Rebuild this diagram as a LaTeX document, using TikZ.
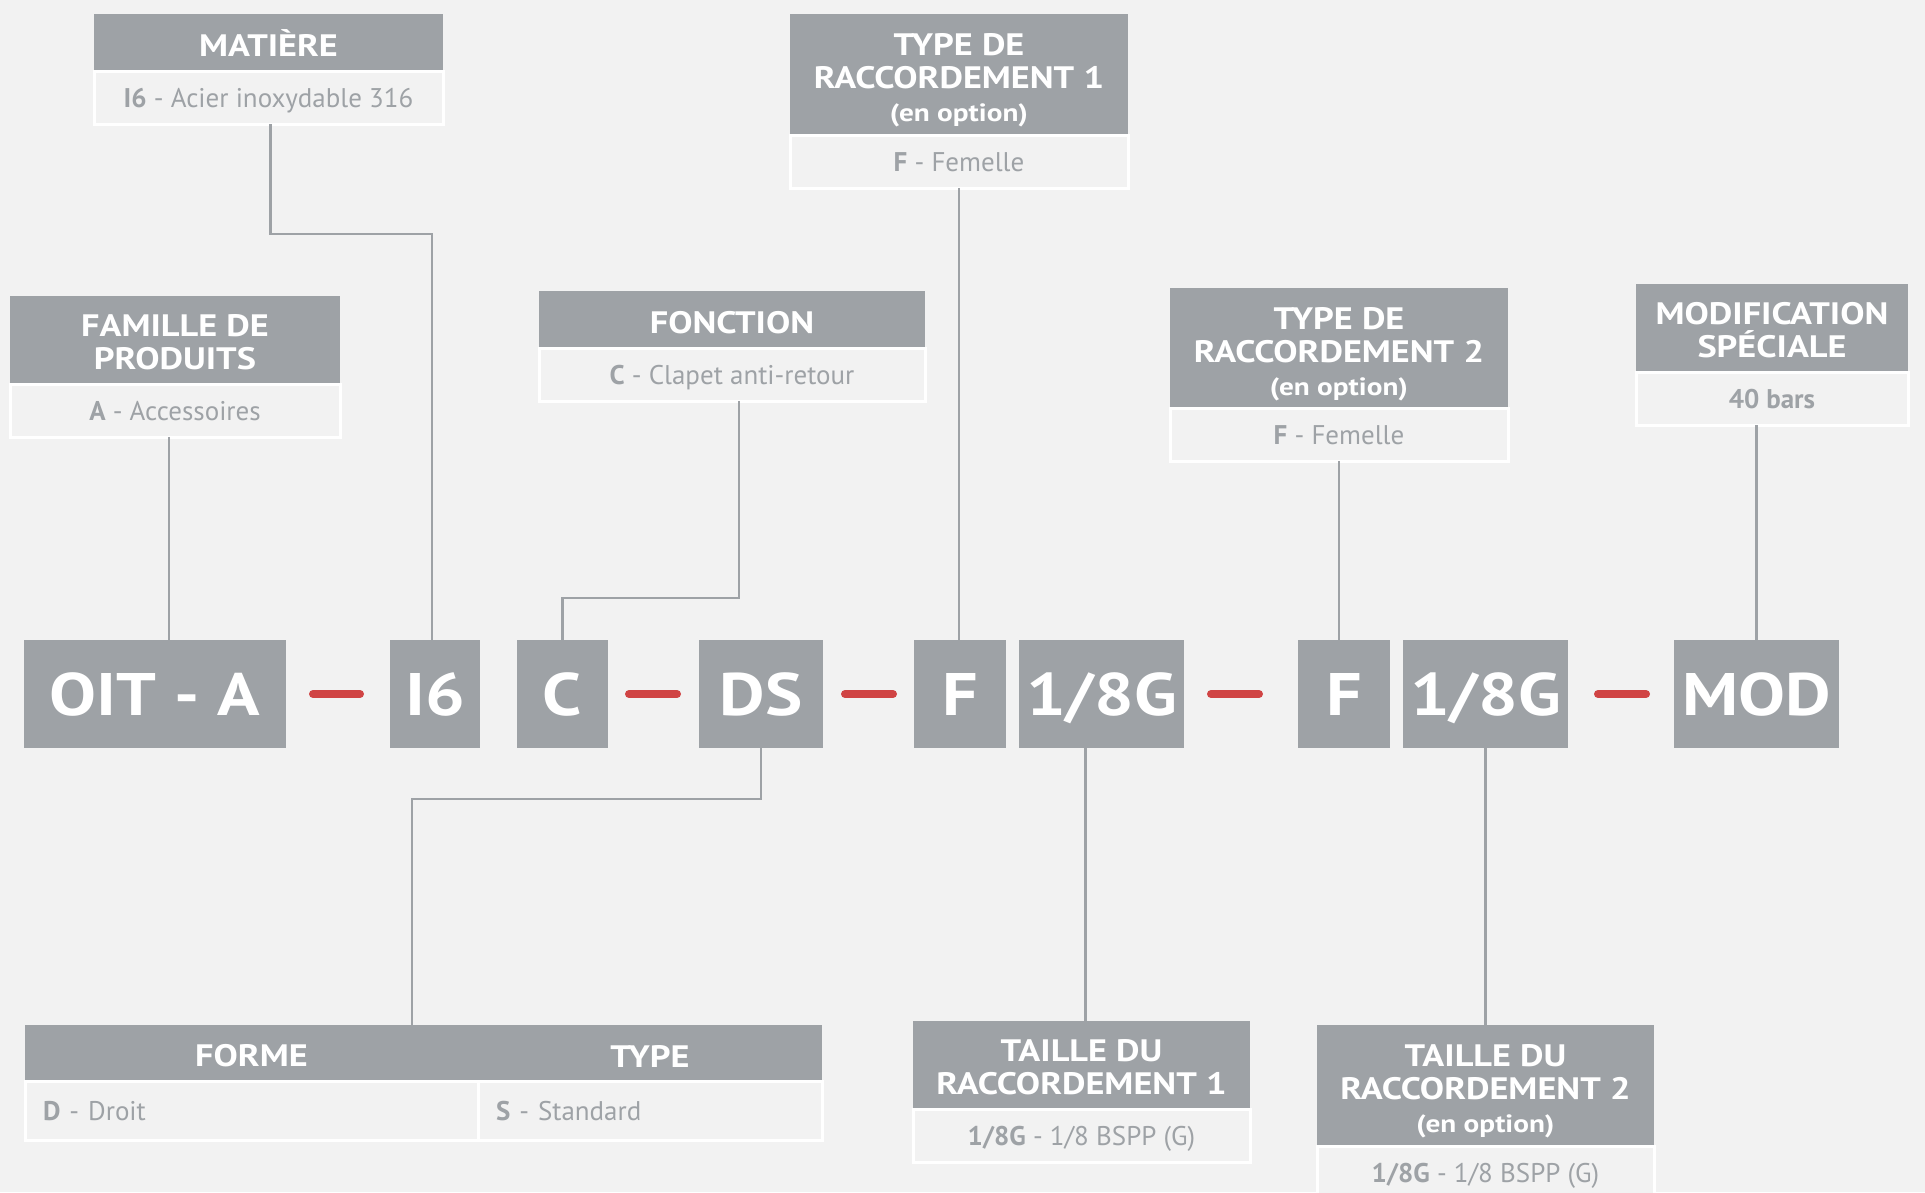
\documentclass[tikz,border=0pt]{standalone}
\usepackage{fontspec}
\setmainfont{PT Sans}
\newfontfamily\widesans{PT Sans}[FakeStretch=1.17]
\usetikzlibrary{positioning,calc}
\definecolor{PageGray}{HTML}{F2F2F2}
\definecolor{BoxGray}{HTML}{9EA2A6}
\definecolor{BarRed}{HTML}{D04444}
\newcommand{\opt}{\fontsize{25}{27}\selectfont}
\newcommand{\lift}[1]{\rule{0pt}{#1}}

\begin{document}
\begin{tikzpicture}[x=1pt, y=-1pt, node distance=0pt,
  every node/.style={align=center, inner sep=0pt, outer sep=0pt},
  hdr/.style={fill=BoxGray, text=white, font=\fontsize{31}{33}\widesans\bfseries, anchor=north west, execute at begin node=\rule{0pt}{28pt}},
  body/.style={fill=PageGray, draw=white, line width=3pt, text=BoxGray, font=\fontsize{27}{30}\selectfont, minimum height=53pt, text height=19pt, text depth=0pt},
  code/.style={fill=BoxGray, text=white, font=\fontsize{60}{60}\widesans\bfseries, minimum height=108pt, text height=42pt, text depth=0pt},
  link/.style={draw=BoxGray, line width=2.7pt},
  sepbar/.style 2 args={draw=BarRed, line width=8pt, line cap=round, shorten <=#1, shorten >=#2}]
  \useasboundingbox (0,0) rectangle (1925,1192);
  \fill[PageGray] (0,0) rectangle (1925,1192);
  % code row
  \node[code, minimum width=262pt] (oita) at (155,694) {OIT - A};
  \node[code, minimum width=90pt] (isix) at (435,694) {I6};
  \node[code, minimum width=91pt] (fc) at (562.5,694) {C};
  \node[code, minimum width=124pt] (ds) at (761,694) {DS};
  \node[code, minimum width=92pt] (fa) at (960,694) {F};
  \node[code, minimum width=165pt] (sza) at (1101.5,694) {1/8G};
  \node[code, minimum width=92pt] (fb) at (1344,694) {F};
  \node[code, minimum width=165pt] (szb) at (1485.5,694) {1/8G};
  \node[code, minimum width=165pt] (mod) at (1756.5,694) {MOD};
  \draw[sepbar={27pt}{30pt}] (oita) -- (isix);
  \draw[sepbar={21pt}{22pt}] (fc) -- (ds);
  \draw[sepbar={22pt}{21pt}] (ds) -- (fa);
  \draw[sepbar={27pt}{39pt}] (sza) -- (fb);
  \draw[sepbar={30pt}{28pt}] (szb) -- (mod);
  % cards above
  \node[hdr, minimum width=349pt, minimum height=57pt] (mat) at (94,14) {MATIÈRE};
  \node[body, minimum width=349pt, below=of mat] (matb) {{\bfseries I6} - Acier inoxydable 316};
  \node[hdr, minimum width=330pt, minimum height=88pt] (fam) at (10,296) {\lift{27pt}FAMILLE DE\\PRODUITS};
  \node[body, minimum width=330pt, below=of fam] (famb) {{\bfseries A} - Accessoires};
  \node[hdr, minimum width=386pt, minimum height=57pt] (fon) at (539,291) {FONCTION};
  \node[body, minimum width=386pt, below=of fon] (fonb) {{\bfseries C} - Clapet anti-retour};
  \node[hdr, minimum width=338pt, minimum height=121pt] (typea) at (790,14) {\lift{34pt}TYPE DE\\RACCORDEMENT 1\\\opt(en option)};
  \node[body, minimum width=338pt, below=of typea] (typeab) {{\bfseries F} - Femelle};
  \node[hdr, minimum width=338pt, minimum height=120pt] (typeb) at (1170,288) {\lift{34pt}TYPE DE\\RACCORDEMENT 2\\\opt(en option)};
  \node[body, minimum width=338pt, below=of typeb] (typebb) {{\bfseries F} - Femelle};
  \node[hdr, minimum width=272pt, minimum height=88pt] (modif) at (1636,284) {\lift{27pt}MODIFICATION\\SPÉCIALE};
  \node[body, minimum width=272pt, below=of modif] (modb) {\bfseries 40 bars};
  % cards below
  \node[hdr, minimum width=453pt, minimum height=56pt] (forme) at (25,1025) {FORME};
  \node[hdr, minimum width=344pt, minimum height=56pt, right=of forme] (type) {TYPE};
  \node[body, minimum height=59pt, text width=417pt, inner xsep=18pt, align=left, below=of forme] (formeb) {{\bfseries D} - Droit};
  \node[body, minimum height=59pt, text width=308pt, inner xsep=18pt, align=left, below=of type] (typeb2) {{\bfseries S} - Standard};
  \node[hdr, minimum width=337pt, minimum height=88pt] (taillea) at (913,1021) {\lift{27pt}TAILLE DU\\RACCORDEMENT 1};
  \node[body, minimum width=337pt, below=of taillea] (tailleab) {{\bfseries 1/8G} - 1/8 BSPP (G)};
  \node[hdr, minimum width=337pt, minimum height=121pt] (tailleb) at (1317,1025) {\lift{34pt}TAILLE DU\\RACCORDEMENT 2\\\opt(en option)};
  \node[body, minimum width=337pt, below=of tailleb] (taillebb) {{\bfseries 1/8G} - 1/8 BSPP (G)};
  % links
  \draw[link] ([xshift=-6pt]famb.south) -- ([xshift=-6pt]famb.south |- oita.north);
  \draw[link] ([xshift=2pt]matb.south) -- ++(0,110) -| ([xshift=-3pt]isix.north);
  \draw[link] ([xshift=7pt]fonb.south) -- ++(0,197) -| (fc.north);
  \draw[link] (typeab.south) -- (typeab.south |- fa.north);
  \draw[link] (typebb.south) -- (typebb.south |- fb.north);
  \draw[link] (modb.south -| mod.north) -- (mod.north);
  \draw[link] (ds.south) -- ++(0,51) -| ([xshift=-66pt]forme.north east);
  \draw[link] ([xshift=4pt]sza.south -| taillea.north) -- ([xshift=4pt]taillea.north);
  \draw[link] (szb.south) -- (tailleb.north);
\end{tikzpicture}
\end{document}
